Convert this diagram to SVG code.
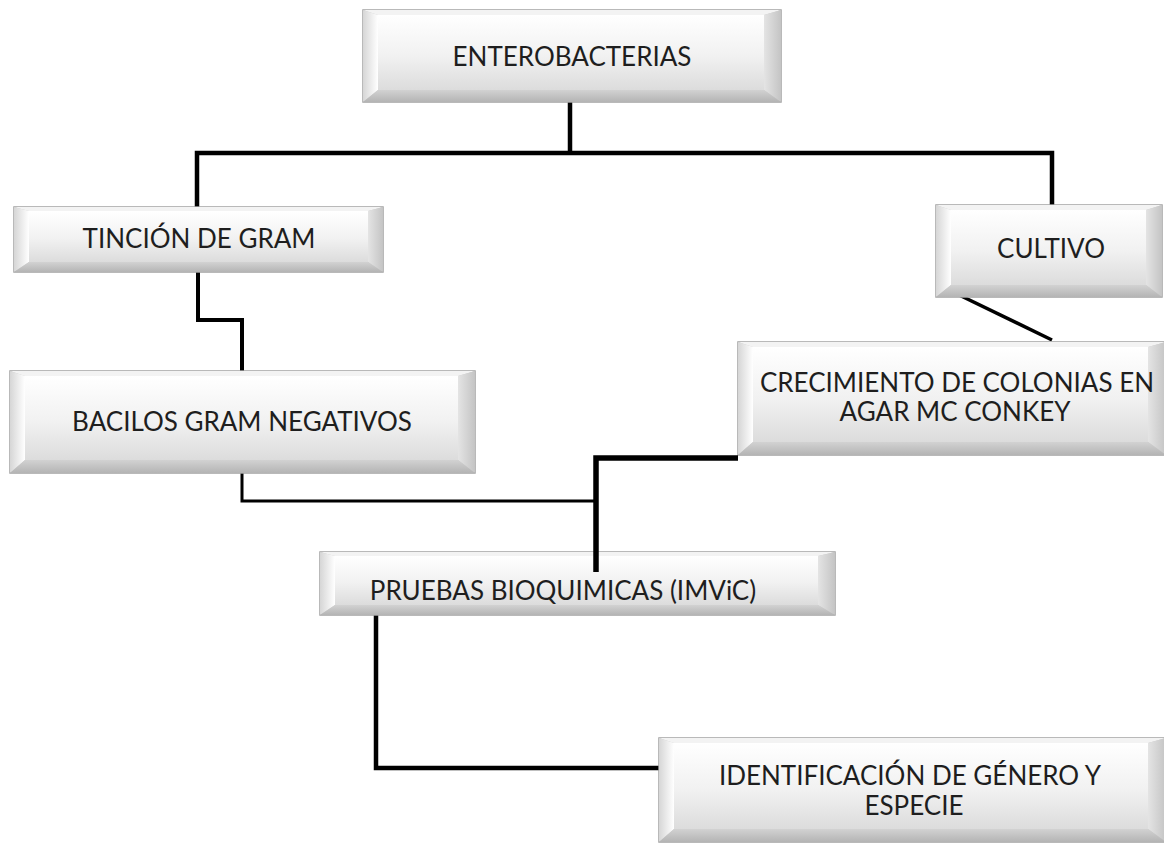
<svg xmlns="http://www.w3.org/2000/svg" width="1164" height="844" viewBox="0 0 1164 844">
  <defs>
    <linearGradient id="face" x1="0" y1="0" x2="0" y2="1">
      <stop offset="0" stop-color="#ffffff"/>
      <stop offset="0.55" stop-color="#f1f1f1"/>
      <stop offset="1" stop-color="#dcdcdc"/>
    </linearGradient>
    <linearGradient id="leftFacet" x1="0" y1="0" x2="1" y2="0">
      <stop offset="0" stop-color="#d6d6d6"/>
      <stop offset="1" stop-color="#ffffff"/>
    </linearGradient>
    <linearGradient id="rightFacet" x1="0" y1="0" x2="1" y2="0">
      <stop offset="0" stop-color="#e4e4e4"/>
      <stop offset="1" stop-color="#c4c4c4"/>
    </linearGradient>
    <linearGradient id="bottomFacet" x1="0" y1="0" x2="0" y2="1">
      <stop offset="0" stop-color="#d2d2d2"/>
      <stop offset="1" stop-color="#b4b4b4"/>
    </linearGradient>
    <style>
      .rim { fill: #c9c9c9; stroke: #a3a3a3; stroke-width: 1.5; }
      .top { fill: #f3f3f3; }
      .lf { fill: url(#leftFacet); }
      .rf { fill: url(#rightFacet); }
      .bf { fill: url(#bottomFacet); }
      .face { fill: url(#face); }
      .label { font-family: Lato, "Open Sans", "Liberation Sans", sans-serif; font-size: 26px; fill: #1e1e1e; text-anchor: middle; }
      .wire { fill: none; stroke: #000000; stroke-linejoin: miter; stroke-linecap: butt; }
    </style>
  </defs>

  <rect width="1164" height="844" fill="#ffffff"/>

  <!-- connectors -->
  <g id="connectors">
    <path class="wire" stroke-width="4.5" d="M570,102 V153"/>
    <path class="wire" stroke-width="4.5" d="M197,207 V153 H1052 V205"/>
    <path class="wire" stroke-width="4" d="M198,272 V320 H242 V371"/>
    <path class="wire" stroke-width="3.5" d="M955,293 L1052,340"/>
    <path class="wire" stroke-width="3" d="M242,473 V501 H596"/>
    <path class="wire" stroke-width="4.5" d="M376,615 V768 H659"/>
  </g>

  <!-- ENTEROBACTERIAS: x363 y10 w418 h92 -->
  <g id="n-enterobacterias">
    <rect class="rim" x="363" y="10" width="418" height="92"/>
    <polygon class="top" points="363,10 781,10 764,15 378,15"/>
    <polygon class="lf" points="363,10 378,15 378,90 363,102"/>
    <polygon class="rf" points="781,10 781,102 764,90 764,15"/>
    <polygon class="bf" points="363,102 378,90 764,90 781,102"/>
    <rect class="face" x="378" y="15" width="386" height="75"/>
    <text class="label" x="572" y="66" font-size="28">ENTEROBACTERIAS</text>
  </g>

  <!-- TINCIÓN DE GRAM: x14 y207 w369 h65 -->
  <g id="n-tincion">
    <rect class="rim" x="14" y="207" width="369" height="65"/>
    <polygon class="top" points="14,207 383,207 368,211 29,211"/>
    <polygon class="lf" points="14,207 29,211 29,262 14,272"/>
    <polygon class="rf" points="383,207 383,272 368,262 368,211"/>
    <polygon class="bf" points="14,272 29,262 368,262 383,272"/>
    <rect class="face" x="29" y="211" width="339" height="51"/>
    <text class="label" x="199" y="248" font-size="28">TINCIÓN DE GRAM</text>
  </g>

  <!-- CULTIVO: x936 y205 w226 h92 -->
  <g id="n-cultivo">
    <rect class="rim" x="936" y="205" width="226" height="92"/>
    <polygon class="top" points="936,205 1162,205 1146,210 951,210"/>
    <polygon class="lf" points="936,205 951,210 951,285 936,297"/>
    <polygon class="rf" points="1162,205 1162,297 1146,285 1146,210"/>
    <polygon class="bf" points="936,297 951,285 1146,285 1162,297"/>
    <rect class="face" x="951" y="210" width="195" height="75"/>
    <text class="label" x="1051" y="258" font-size="26.5">CULTIVO</text>
  </g>

  <!-- BACILOS GRAM NEGATIVOS: x10 y371 w465 h102 -->
  <g id="n-bacilos">
    <rect class="rim" x="10" y="371" width="465" height="102"/>
    <polygon class="top" points="10,371 475,371 458,376 25,376"/>
    <polygon class="lf" points="10,371 25,376 25,460 10,473"/>
    <polygon class="rf" points="475,371 475,473 458,460 458,376"/>
    <polygon class="bf" points="10,473 25,460 458,460 475,473"/>
    <rect class="face" x="25" y="376" width="433" height="84"/>
    <text class="label" x="242" y="431" font-size="28">BACILOS GRAM NEGATIVOS</text>
  </g>

  <!-- CRECIMIENTO DE COLONIAS EN AGAR MC CONKEY: x738 y342 -->
  <g id="n-crecimiento">
    <rect class="rim" x="738" y="342" width="428" height="113"/>
    <polygon class="top" points="738,342 1166,342 1148,347 753,347"/>
    <polygon class="lf" points="738,342 753,347 753,442 738,455"/>
    <polygon class="rf" points="1166,342 1166,455 1148,442 1148,347"/>
    <polygon class="bf" points="738,455 753,442 1148,442 1166,455"/>
    <rect class="face" x="753" y="347" width="395" height="95"/>
    <text class="label" x="957" y="392">CRECIMIENTO DE COLONIAS EN</text>
    <text class="label" x="955" y="421">AGAR MC CONKEY</text>
  </g>

  <!-- PRUEBAS BIOQUIMICAS (IMViC): x320 y552 w515 h63 -->
  <g id="n-pruebas">
    <rect class="rim" x="320" y="552" width="515" height="63"/>
    <polygon class="top" points="320,552 835,552 818,556 335,556"/>
    <polygon class="lf" points="320,552 335,556 335,605 320,615"/>
    <polygon class="rf" points="835,552 835,615 818,605 818,556"/>
    <polygon class="bf" points="320,615 335,605 818,605 835,615"/>
    <rect class="face" x="335" y="556" width="483" height="49"/>
    <text class="label" x="563" y="600" font-size="24">PRUEBAS BIOQUIMICAS (IMViC)</text>
  </g>

  <!-- line from the lower branch into PRUEBAS and up to CRECIMIENTO -->
  <g id="connectors-over">
    <path class="wire" stroke-width="5.5" d="M596,572 V458 H738"/>
  </g>

  <!-- IDENTIFICACIÓN DE GÉNERO Y ESPECIE: x659 y738 -->
  <g id="n-identificacion">
    <rect class="rim" x="659" y="738" width="507" height="104"/>
    <polygon class="top" points="659,738 1166,738 1148,743 674,743"/>
    <polygon class="lf" points="659,738 674,743 674,829 659,842"/>
    <polygon class="rf" points="1166,738 1166,842 1148,829 1148,743"/>
    <polygon class="bf" points="659,842 674,829 1148,829 1166,842"/>
    <rect class="face" x="674" y="743" width="474" height="86"/>
    <text class="label" x="910" y="785">IDENTIFICACIÓN DE GÉNERO Y</text>
    <text class="label" x="914" y="815">ESPECIE</text>
  </g>
</svg>
